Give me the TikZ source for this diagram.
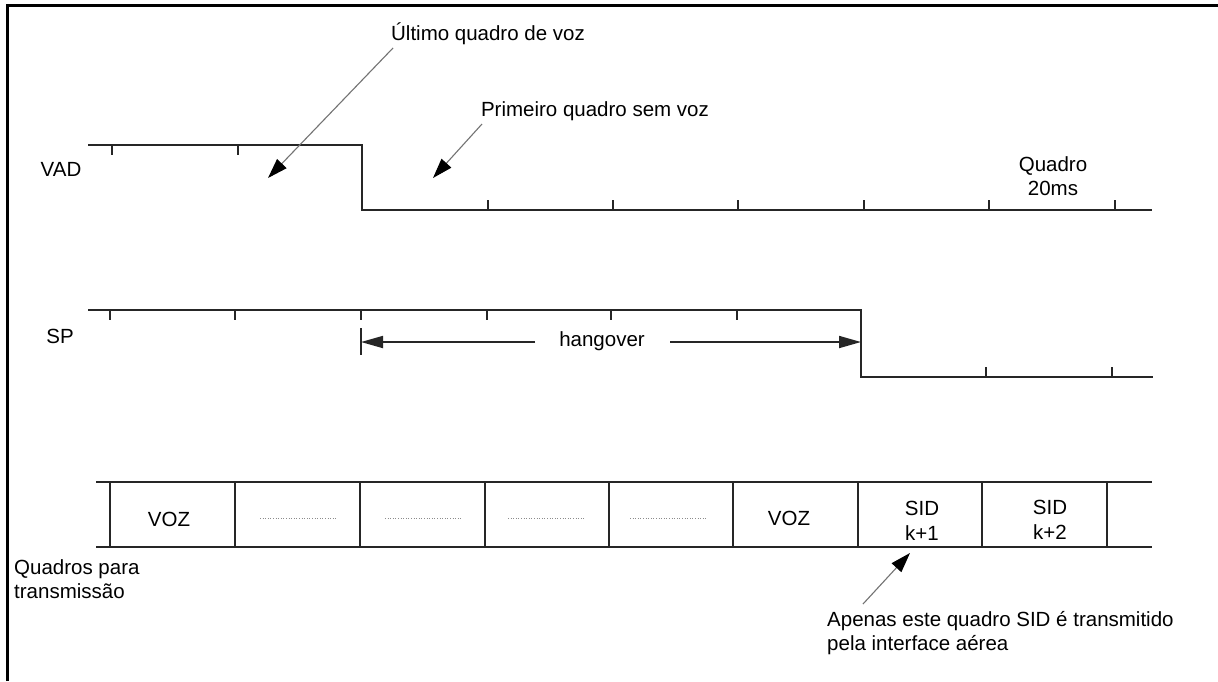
\documentclass[tikz,border=0pt]{standalone}
\usepackage{fontspec}
\setmainfont{Liberation Sans}
\usetikzlibrary{arrows.meta}
\begin{document}
\begin{tikzpicture}[x=1pt,y=-1pt,
  lbl/.style={inner sep=0pt, font=\fontsize{20.5}{24.5}\selectfont, text=black},
  sig/.style={line width=1.8pt, black!85, line join=miter},
  tk/.style={line width=1.6pt, black!85},
  cell/.style={line width=1.8pt, black!85},
  pointer/.style={line width=1.1pt, black!55, -{Triangle[length=20pt,width=13pt,color=black]}},
  harr/.style={line width=1.8pt, black!85, -{Triangle[length=22pt,width=12pt]}},
  dots/.style={line width=0.8pt, black!45, dash pattern=on 1pt off 1.6pt}
]
\useasboundingbox (0,0) rectangle (1218,681);
\fill[white] (0,0) rectangle (1218,681);
% frame (top and left)
\draw[line width=3pt] (7,681) -- (7,5) -- (1218,5);

% ---------- VAD ----------
\node[lbl] (vad) at (61,169) {VAD};
\coordinate (v0) at (88,145);
\coordinate (v1) at (362,145);
\coordinate (v2) at (362,210);
\coordinate (v3) at (1152,210);
\draw[sig] (v0) -- (v1) -- (v2) -- (v3);
\foreach \x in {112,238} \draw[tk] (\x,145) -- (\x,155);
\foreach \x in {488,613,738,864,989,1115} \draw[tk] (\x,210) -- (\x,200);
\node[lbl, align=center] (quadro) at (1053,176) {Quadro\\20ms};

% pointers
\node[lbl] (ult) at (488,34) {Último quadro de voz};
\coordinate (ultS) at (393,48);
\coordinate (ultT) at (268,178);
\draw[pointer] (ultS) -- (ultT);
\node[lbl] (pri) at (595,111) {Primeiro quadro sem voz};
\coordinate (priS) at (482,124);
\coordinate (priT) at (433,178);
\draw[pointer] (priS) -- (priT);

% ---------- SP ----------
\node[lbl] (sp) at (60,336) {SP};
\coordinate (s0) at (88,310);
\coordinate (s1) at (861,310);
\coordinate (s2) at (861,377);
\coordinate (s3) at (1153,377);
\draw[sig] (s0) -- (s1) -- (s2) -- (s3);
\foreach \x in {110,235,361,487,611,737} \draw[tk] (\x,310) -- (\x,320);
\foreach \x in {986,1112} \draw[tk] (\x,377) -- (\x,367);

% hangover
\coordinate (hbT) at (361,328);
\coordinate (hbB) at (361,355);
\draw[tk] (hbT) -- (hbB);
\node[lbl] (hang) at (602,341) {hangover};
\coordinate (hA) at (535,342);
\coordinate (hB) at (670,342);
\coordinate (hL) at (361,342);
\coordinate (hR) at (861,342);
\draw[harr] (hA) -- (hL);
\draw[harr] (hB) -- (hR);

% ---------- frames ----------
\coordinate (fTL) at (96,482);
\coordinate (fTR) at (1152,482);
\coordinate (fBL) at (96,547);
\coordinate (fBR) at (1152,547);
\draw[cell] (fTL) -- (fTR);
\draw[cell] (fBL) -- (fBR);
\foreach \x in {110,235,360,485,609,733,858,982,1107} \draw[cell] (\x,482) -- (\x,547);

\node[lbl] (voz1) at (169,519) {VOZ};
\foreach \cx/\nm in {298/c2,423/c3,546/c4,668/c5} {
  \coordinate (\nm) at (\cx,518);
  \draw[dots] ([xshift=-38pt]\nm) -- ([xshift=38pt]\nm);
}
\node[lbl] (voz2) at (789,518) {VOZ};
\node[lbl, align=center] (sid1) at (922,521) {SID\\k+1};
\node[lbl, align=center] (sid2) at (1050,520) {SID\\k+2};

\node[lbl, align=left, anchor=west] (qpt) at (14,579) {Quadros para\\transmissão};

% bottom pointer
\node[lbl, align=left, anchor=west] (apen) at (827,633) {Apenas este quadro SID é transmitido\\pela interface aérea};
\coordinate (apS) at (863,604);
\coordinate (apT) at (910,553);
\draw[pointer] (apS) -- (apT);
\end{tikzpicture}
\end{document}
